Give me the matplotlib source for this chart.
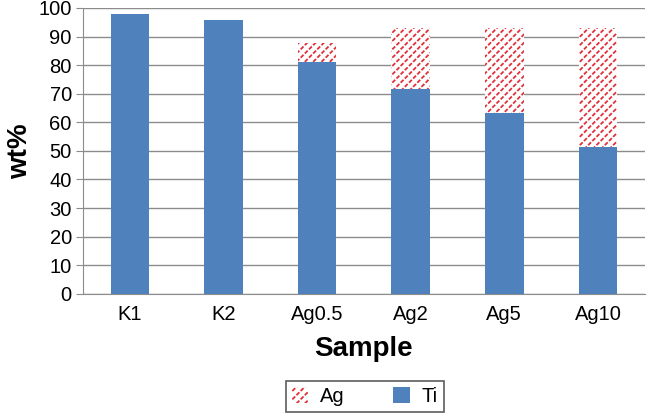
import numpy as np
import matplotlib.pyplot as plt
from matplotlib.legend_handler import HandlerTuple

plt.rcParams['font.family'] = ['Liberation Sans', 'DejaVu Sans']
plt.rcParams['hatch.linewidth'] = 1.3

samples = ["K1", "K2", "Ag0.5", "Ag2", "Ag5", "Ag10"]
ti = [98, 95.7, 81.2, 71.8, 63.2, 51.3]
ag = [0, 0, 6.7, 21.1, 29.7, 41.6]

fig = plt.figure(figsize=(6.48, 4.18), dpi=100)
ax = fig.add_axes([0.128, 0.297, 0.867, 0.684])

x = np.arange(len(samples))
w = 0.41
ti_bars = ax.bar(x, ti, w, color="#4F81BD", zorder=3, label="Ti")
ag_bars = ax.bar(x, ag, w, bottom=ti, facecolor="white", edgecolor="#E0303A",
                 hatch="////", linewidth=0, zorder=3, label="Ag")
# white cross-hatch breaks the red lines into dots
ag_gaps = ax.bar(x, ag, w, bottom=ti, facecolor="none", edgecolor="white",
                 hatch="\\\\\\\\", linewidth=0, zorder=4)

ax.set_ylim(0, 100)
ax.set_xlim(-0.5, len(samples) - 0.5)
ax.set_yticks(np.arange(0, 101, 10))
ax.yaxis.grid(True, color="#8C8C8C", linewidth=1, zorder=0)
ax.set_xticks(x)
ax.set_xticklabels(samples)
ax.tick_params(axis="x", length=0, labelsize=14.5, pad=8)
ax.tick_params(axis="y", length=5, color="#8C8C8C", labelsize=14.5, pad=3)
for s in ["top", "right"]:
    ax.spines[s].set_visible(False)
for s in ["left", "bottom"]:
    ax.spines[s].set_color("#8C8C8C")

ax.set_ylabel("wt%", fontsize=20, fontweight="bold", labelpad=4)
ax.set_xlabel("Sample", fontsize=20, fontweight="bold", labelpad=9)

leg = ax.legend(handles=[(ag_bars[0], ag_gaps[0]), ti_bars], labels=["Ag", "Ti"],
                handler_map={tuple: HandlerTuple(ndivide=1)},
                loc="upper center", bbox_to_anchor=(0.502, -0.304), ncol=2,
                fontsize=14.5, frameon=True, fancybox=False, edgecolor="#333333",
                handlelength=0.8, handleheight=0.8, handletextpad=0.6,
                columnspacing=2.4, borderpad=0.3, borderaxespad=0)
leg.get_frame().set_linewidth(1.2)

fig.savefig("out.png", dpi=100)
